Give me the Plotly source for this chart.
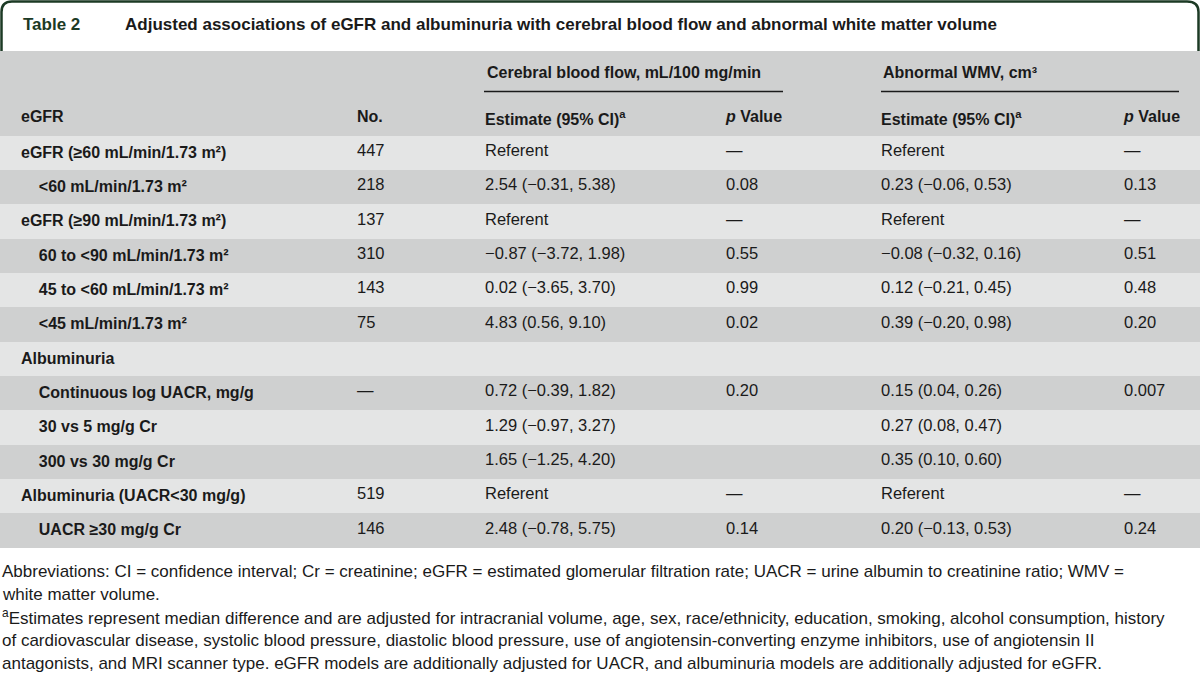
import plotly.graph_objects as go

W, H = 1200, 675

# --- data ---
row_labels = [
    "eGFR (≥60 mL/min/1.73 m²)",
    "&lt;60 mL/min/1.73 m²",
    "eGFR (≥90 mL/min/1.73 m²)",
    "60 to &lt;90 mL/min/1.73 m²",
    "45 to &lt;60 mL/min/1.73 m²",
    "&lt;45 mL/min/1.73 m²",
    "Albuminuria",
    "Continuous log UACR, mg/g",
    "30 vs 5 mg/g Cr",
    "300 vs 30 mg/g Cr",
    "Albuminuria (UACR&lt;30 mg/g)",
    "UACR ≥30 mg/g Cr",
]
row_level = [0, 1, 0, 1, 1, 1, 0, 1, 1, 1, 0, 1]
n_values = ["447", "218", "137", "310", "143", "75", "", "—", "", "", "519", "146"]
cbf_est = ["Referent", "2.54 (−0.31, 5.38)", "Referent", "−0.87 (−3.72, 1.98)",
           "0.02 (−3.65, 3.70)", "4.83 (0.56, 9.10)", "", "0.72 (−0.39, 1.82)",
           "1.29 (−0.97, 3.27)", "1.65 (−1.25, 4.20)", "Referent", "2.48 (−0.78, 5.75)"]
cbf_p = ["—", "0.08", "—", "0.55", "0.99", "0.02", "", "0.20", "", "", "—", "0.14"]
wmv_est = ["Referent", "0.23 (−0.06, 0.53)", "Referent", "−0.08 (−0.32, 0.16)",
           "0.12 (−0.21, 0.45)", "0.39 (−0.20, 0.98)", "", "0.15 (0.04, 0.26)",
           "0.27 (0.08, 0.47)", "0.35 (0.10, 0.60)", "Referent", "0.20 (−0.13, 0.53)"]
wmv_p = ["—", "0.13", "—", "0.51", "0.48", "0.20", "", "0.007", "", "", "—", "0.24"]

col_headers = ["", "eGFR", "No.", "Estimate (95% CI)<sup>a</sup>", "<i>p</i> Value",
               "Estimate (95% CI)<sup>a</sup>", "<i>p</i> Value"]
group_headers = ["Cerebral blood flow, mL/100 mg/min", "Abnormal WMV, cm³"]

title_tag = "Table 2"
title_text = "Adjusted associations of eGFR and albuminuria with cerebral blood flow and abnormal white matter volume"
footnotes = [
    "Abbreviations: CI = confidence interval; Cr = creatinine; eGFR = estimated glomerular filtration rate; UACR = urine albumin to creatinine ratio; WMV =",
    "white matter volume.",
    "<sup>a</sup>Estimates represent median difference and are adjusted for intracranial volume, age, sex, race/ethnicity, education, smoking, alcohol consumption, history",
    "of cardiovascular disease, systolic blood pressure, diastolic blood pressure, use of angiotensin-converting enzyme inhibitors, use of angiotensin II",
    "antagonists, and MRI scanner type. eGFR models are additionally adjusted for UACR, and albuminuria models are additionally adjusted for eGFR.",
]

LIGHT = "#e4e5e5"
DARK = "#cfd0d0"
GREEN = "#1c3a25"
INK = "#1a1a1a"
FONT = "Liberation Sans, Arial, sans-serif"


def px(x):
    return x / W


def py(y):
    return 1 - y / H


# indentation for sub rows, bold labels
labels_fmt = [("\u00a0" * 4 if lvl else "") + f"<b>{s}</b>" for s, lvl in zip(row_labels, row_level)]
n_rows = len(row_labels)
row_fill = [LIGHT if i % 2 == 0 else DARK for i in range(n_rows)]

columns = [[""] * n_rows, labels_fmt, n_values, cbf_est, cbf_p, wmv_est, wmv_p]
col_widths = [13, 336, 128, 241, 155, 243, 84]
col_sizes = [16, 16, 16.5, 16.5, 16.5, 16.5, 16.5]

row_h = (546 - 134) / n_rows
table_top, table_bottom = 100, 134 + row_h * n_rows + 2

fig = go.Figure(go.Table(
    domain=dict(x=[0, 1], y=[py(table_bottom), py(table_top)]),
    columnwidth=col_widths,
    header=dict(
        values=[f"<b>{h}</b>" if h else "" for h in col_headers],
        fill_color=DARK,
        line=dict(width=0, color=DARK),
        align="left",
        height=34,
        font=dict(family=FONT, size=16, color=INK),
    ),
    cells=dict(
        values=columns,
        fill_color=[row_fill] * len(columns),
        line=dict(width=0, color=LIGHT),
        align="left",
        height=row_h,
        font=dict(family=FONT, size=col_sizes, color=INK),
    ),
))

shapes = [
    # gray header band above the column labels
    dict(type="rect", xref="paper", yref="paper", x0=0, x1=1, y0=py(101), y1=py(51),
         fillcolor=DARK, line=dict(width=0), layer="below"),
    # title box with rounded top corners
    dict(type="path", xref="paper", yref="paper",
         path=(f"M {px(1.5)},{py(51)} L {px(1.5)},{py(12)} Q {px(1.5)},{py(1.5)} {px(12)},{py(1.5)} "
               f"L {px(1187)},{py(1.5)} Q {px(1198.5)},{py(1.5)} {px(1198.5)},{py(12)} L {px(1198.5)},{py(51)}"),
         line=dict(color=GREEN, width=2.5)),
    # group underlines
    dict(type="line", xref="paper", yref="paper", x0=px(484), x1=px(783), y0=py(91.5), y1=py(91.5),
         line=dict(color=INK, width=1.3)),
    dict(type="line", xref="paper", yref="paper", x0=px(881), x1=px(1179), y0=py(91.5), y1=py(91.5),
         line=dict(color=INK, width=1.3)),
]

annotations = [
    dict(text=f"<b>{title_tag}</b>", x=px(21), y=py(25), xanchor="left", yanchor="middle",
         font=dict(family=FONT, size=17, color=GREEN)),
    dict(text=f"<b>{title_text}</b>", x=px(123), y=py(25), xanchor="left", yanchor="middle",
         font=dict(family=FONT, size=17, color=INK)),
    dict(text=f"<b>{group_headers[0]}</b>", x=px(485), y=py(72), xanchor="left", yanchor="middle",
         font=dict(family=FONT, size=16, color=INK)),
    dict(text=f"<b>{group_headers[1]}</b>", x=px(881), y=py(72), xanchor="left", yanchor="middle",
         font=dict(family=FONT, size=16, color=INK)),
]
for i, line in enumerate(footnotes):
    annotations.append(dict(text=line, x=0, y=py(571 + 23 * i), xanchor="left", yanchor="middle",
                            font=dict(family=FONT, size=17, color=INK)))
for a in annotations:
    a.update(xref="paper", yref="paper", showarrow=False)

fig.update_layout(
    width=W, height=H,
    margin=dict(l=0, r=0, t=0, b=0),
    paper_bgcolor="white",
    shapes=shapes,
    annotations=annotations,
)

fig.write_html("out.html", config={"displayModeBar": False},
               post_script="document.body.style.margin='0';")
